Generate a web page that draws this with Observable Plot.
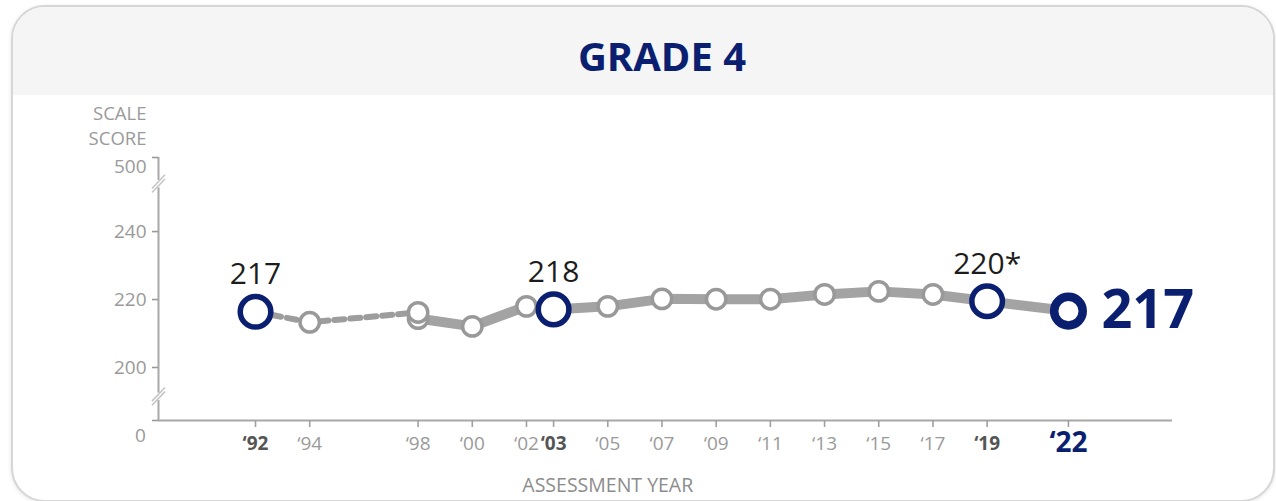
<!DOCTYPE html>
<html>
<head>
<meta charset="utf-8">
<script src="https://cdn.jsdelivr.net/npm/d3@7"></script>
<script src="https://cdn.jsdelivr.net/npm/@observablehq/plot@0.6"></script>
<style>
  html, body { margin: 0; padding: 0; background: #fff; width: 1276px; height: 501px; overflow: hidden; font-family: "Open Sans", sans-serif; }
  #card { position: absolute; left: 11px; top: 5px; width: 1264px; height: 497px; box-sizing: border-box; border: 2px solid #d6d6d6; border-radius: 34px; overflow: hidden; background: #fff; box-shadow: 0 1px 4px rgba(0,0,0,0.10); }
  #head { position: absolute; left: 0; top: 0; right: 0; height: 88px; background: #f5f5f6; }
  #title { position: absolute; left: 0; width: 1324px; top: 36px; text-align: center; font-family: "Open Sans", sans-serif; font-weight: 700; font-size: 40px; line-height: 40px; color: #0b1f70; }
  #chart { position: absolute; left: 0; top: 0; }
</style>
</head>
<body>
<div id="card"><div id="head"></div></div>
<div id="title">GRADE 4</div>
<div id="chart"></div>
<script>
// ---- data ----
const years = [1992, 1994, 1998, 2000, 2002, 2003, 2005, 2007, 2009, 2011, 2013, 2015, 2017, 2019, 2022];
const boldYears = [1992, 2003, 2019];
const currentYears = [2022];
const earlyYears = [1992, 1994, 1998];            // accommodations not permitted (dashed)
const earlyScores = [216.4, 213.3, 216.2];
const laterYears = [1998, 2000, 2002, 2003, 2005, 2007, 2009, 2011, 2013, 2015, 2017, 2019, 2022]; // accommodations permitted
const laterScores = [214.4, 212.1, 218.0, 217.1, 218.0, 220.2, 220.1, 220.1, 221.5, 222.4, 221.5, 219.5, 216.6];
const highlightYears = [1992, 2003, 2019];
const labelYears = [1992, 2003, 2019];
const labelTexts = ["217", "218", "220*"];
const currentLabel = "217";
const yTicks = [200, 220, 240];
const yTopLabel = "500";
const yBottomLabel = "0";
const yTitle = "SCALE\nSCORE";
const xTitle = "ASSESSMENT YEAR";

// ---- build ----
const navy = "#0b1f70";
const grayLine = "#a3a3a3";
const axisGray = "#a8a8a8";
const xDomain = [1988.42, 2025.84];
const yDomain = [184.4, 261.8];
const x0 = xDomain[0], y0 = yDomain[0], y1 = yDomain[1];

const early = earlyYears.map((year, i) => ({year, score: earlyScores[i]}));
const later = laterYears.map((year, i) => ({year, score: laterScores[i]}));
const highlighted = [
  ...early.filter(d => highlightYears.includes(d.year)),
  ...later.filter(d => highlightYears.includes(d.year) && d.year !== 1992)
];
const current = later.filter(d => currentYears.includes(d.year));
const grayLater = later.filter(d => !highlightYears.includes(d.year) && !currentYears.includes(d.year));
const grayEarly = early.filter(d => !highlightYears.includes(d.year));
const labels = labelYears.map((year, i) => ({year, text: labelTexts[i], score: (year === 1992 ? early : later).find(d => d.year === year).score}));
const fmtYear = y => "\u2018" + String(y).slice(2);
const regularYears = years.filter(y => !boldYears.includes(y) && !currentYears.includes(y));
const breaks = [254.1, 191.5];

const chart = Plot.plot({
  width: 1276,
  height: 501,
  marginLeft: 158,
  marginRight: 104,
  marginTop: 157,
  marginBottom: 81,
  style: { background: "transparent", fontFamily: "Open Sans, sans-serif", fontSize: "19px", overflow: "visible" },
  x: { domain: xDomain },
  y: { domain: yDomain },
  marks: [
    // axis lines
    Plot.ruleX([x0], { y1: y0, y2: y1, stroke: axisGray, strokeWidth: 2 }),
    Plot.ruleY([y0], { x1: x0, x2: xDomain[1], stroke: axisGray, strokeWidth: 2 }),
    Plot.axisY({ ticks: [y0, ...yTicks, y1], tickSize: 6, tickPadding: 6, tickFormat: d => yTicks.includes(d) ? d : "", color: "#9a9a9a", strokeWidth: 1.6, label: null, fontSize: 19 }),
    Plot.axisX({ ticks: years, tickSize: 7, tickFormat: () => "", color: "#a0a0a0", strokeWidth: 1.6, label: null }),
    // axis breaks
    Plot.link(breaks, { x1: x0, x2: x0, y1: d => d - 1.1, y2: d => d + 1.1, stroke: "white", strokeWidth: 6 }),
    Plot.link(breaks, { x1: x0 - 0.24, x2: x0 + 0.24, y1: d => d - 2.6, y2: d => d + 1.4, stroke: "#c4c4c4", strokeWidth: 1.5 }),
    Plot.link(breaks, { x1: x0 - 0.24, x2: x0 + 0.24, y1: d => d - 1.4, y2: d => d + 2.6, stroke: "#c4c4c4", strokeWidth: 1.5 }),
    // extra axis labels
    Plot.text([yTopLabel], { x: x0, y: y1, text: d => d, dx: -12, dy: 9, textAnchor: "end", fill: "#9a9a9a", fontSize: 19 }),
    Plot.text([yBottomLabel], { x: x0, y: y0, text: d => d, dx: -18, dy: 15, fill: "#9a9a9a", fontSize: 19 }),
    Plot.text([yTitle], { x: x0, y: y1, text: d => d, dx: -12, dy: -33, textAnchor: "end", lineHeight: 1.33, fill: "#9a9a9a", fontSize: 18.5 }),
    Plot.text([xTitle], { x: 2005, y: y0, text: d => d, dy: 65, fill: "#8c8c8c", fontSize: 19.5 }),
    // x tick labels
    Plot.text(regularYears, { x: d => d, y: y0, text: fmtYear, dy: 23, fill: "#9a9a9a", fontSize: 19 }),
    Plot.text(boldYears, { x: d => d, y: y0, text: fmtYear, dy: 23, fill: "#555", fontWeight: "bold", fontSize: 19 }),
    Plot.text(currentYears, { x: d => d, y: y0, text: fmtYear, dy: 23, fill: navy, fontWeight: "bold", fontSize: 28 }),
    // trend lines
    Plot.line(later, { x: "year", y: "score", stroke: grayLine, strokeWidth: 10, strokeLinejoin: "round" }),
    Plot.line(early, { x: "year", y: "score", stroke: "#9d9d9d", strokeWidth: 6, strokeDasharray: "10,6" }),
    // points
    Plot.dot(grayLater, { x: "year", y: "score", r: 9.7, fill: "white", stroke: "#999", strokeWidth: 3.5 }),
    Plot.dot(grayEarly, { x: "year", y: "score", r: 9.7, fill: "white", stroke: "#999", strokeWidth: 3.5 }),
    Plot.dot(highlighted, { x: "year", y: "score", r: 15.3, fill: "white", stroke: navy, strokeWidth: 5.5 }),
    Plot.dot(current, { x: "year", y: "score", r: 14.3, fill: "white", stroke: navy, strokeWidth: 8.5 }),
    // value labels
    Plot.text(labels, { x: "year", y: "score", text: "text", dy: -37, fill: "#1c1c1c", fontSize: 30 }),
    Plot.text(current, { x: "year", y: "score", text: () => currentLabel, dx: 33, textAnchor: "start", fill: navy, fontWeight: "bold", fontSize: 54 })
  ]
});
document.getElementById("chart").appendChild(chart);
</script>
</body>
</html>
